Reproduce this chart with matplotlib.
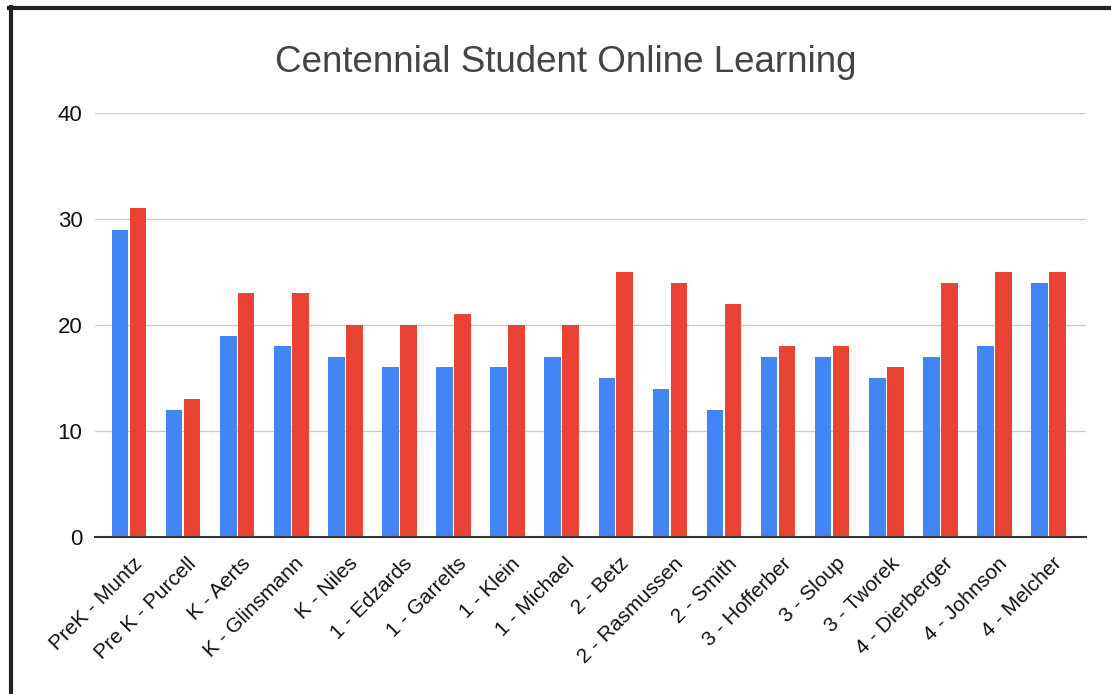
import matplotlib
matplotlib.use("Agg")
import matplotlib.pyplot as plt
import matplotlib.transforms as mtransforms
from matplotlib.lines import Line2D
import numpy as np

categories = ["PreK - Muntz", "Pre K - Purcell", "K - Aerts", "K - Glinsmann", "K - Niles",
              "1 - Edzards", "1 - Garrelts", "1 - Klein", "1 - Michael", "2 - Betz",
              "2 - Rasmussen", "2 - Smith", "3 - Hofferber", "3 - Sloup", "3 - Tworek",
              "4 - Dierberger", "4 - Johnson", "4 - Melcher"]
series_blue = [29, 12, 19, 18, 17, 16, 16, 16, 17, 15, 14, 12, 17, 17, 15, 17, 18, 24]
series_red = [31, 13, 23, 23, 20, 20, 21, 20, 20, 25, 24, 22, 18, 18, 16, 24, 25, 25]
y_ticks = [0, 10, 20, 30, 40]
title = "Centennial Student Online Learning"

plt.rcParams['font.family'] = ['Liberation Sans', 'DejaVu Sans']

W, H = 1111, 694
fig = plt.figure(figsize=(W / 100, H / 100), dpi=100)
fig.patch.set_facecolor('white')

left, right, bottom, top = 95 / W, 1086 / W, 1 - 537 / H, 1 - 113 / H
ax = fig.add_axes([left, bottom, right - left, top - bottom])

x = np.arange(len(categories))
bw = 0.307
off = 0.166
ax.bar(x - off, series_blue, width=bw, color='#4285F4', zorder=3)
ax.bar(x + off, series_red, width=bw, color='#EA4335', zorder=3)

ax.set_xlim(-0.629, 17.693)
ax.set_ylim(0, 40)
ax.set_yticks(y_ticks)
ax.yaxis.grid(True, color='#cccccc', linewidth=1.0, zorder=0)
ax.set_axisbelow(True)
for s in ['top', 'right', 'left']:
    ax.spines[s].set_visible(False)
ax.spines['bottom'].set_color('#333333')
ax.spines['bottom'].set_linewidth(1.5)
ax.spines['bottom'].set_zorder(4)
ax.tick_params(axis='y', length=0, pad=9, labelsize=16, labelcolor='#111111')
ax.tick_params(axis='x', length=0, pad=4, labelsize=15, labelcolor='#111111')

ax.set_xticks(x)
ax.set_xticklabels(categories, rotation=45, ha='right', rotation_mode='anchor', va='center')
offset = mtransforms.ScaledTranslation(10 / 100, -18 / 100, fig.dpi_scale_trans)
for lbl in ax.get_xticklabels():
    lbl.set_transform(lbl.get_transform() + offset)

fig.text(566 / W, 1 - 62 / H, title, ha='center', va='center', fontsize=26.5, color='#444444')

# screenshot frame (left and top)
fig.add_artist(Line2D([10.5 / W, 10.5 / W], [0, 1 - 7 / H], transform=fig.transFigure, color='#222222', linewidth=3))
fig.add_artist(Line2D([9 / W, 1], [1 - 7.5 / H, 1 - 7.5 / H], transform=fig.transFigure, color='#222222', linewidth=3))

fig.savefig("out.png", dpi=100, facecolor='white')
